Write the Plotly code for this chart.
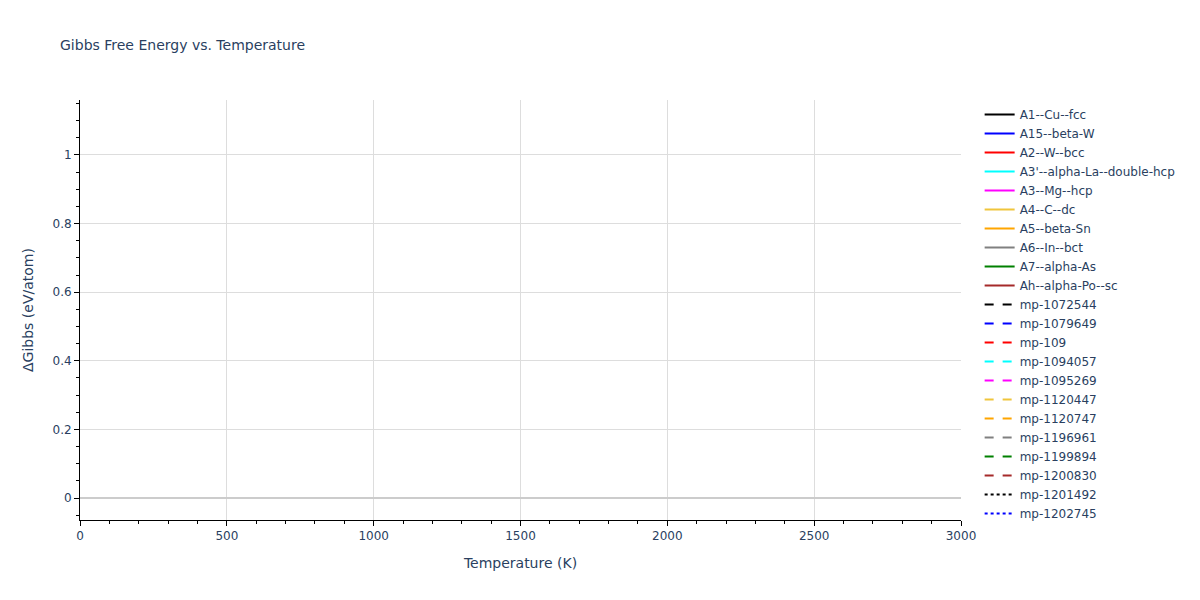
import plotly.graph_objects as go

# Series names and styles (no points of any series are visible in the reference view)
series_names = [
    "A1--Cu--fcc", "A15--beta-W", "A2--W--bcc", "A3'--alpha-La--double-hcp",
    "A3--Mg--hcp", "A4--C--dc", "A5--beta-Sn", "A6--In--bct", "A7--alpha-As",
    "Ah--alpha-Po--sc",
    "mp-1072544", "mp-1079649", "mp-109", "mp-1094057", "mp-1095269",
    "mp-1120447", "mp-1120747", "mp-1196961", "mp-1199894", "mp-1200830",
    "mp-1201492", "mp-1202745",
]
series_colors = [
    "black", "blue", "red", "cyan", "magenta", "#F0C53C", "orange", "gray", "green", "brown",
    "black", "blue", "red", "cyan", "magenta", "#F0C53C", "orange", "gray", "green", "brown",
    "black", "blue",
]
series_dash = ["solid"] * 10 + ["dash"] * 10 + ["dot"] * 2

# Temperature (K) and ΔGibbs (eV/atom): values are missing (nothing is drawn in the reference)
temperatures = [None]
gibbs_values = {name: [None] for name in series_names}

fig = go.Figure()
for name, color, dash in zip(series_names, series_colors, series_dash):
    fig.add_trace(go.Scatter(
        x=temperatures, y=gibbs_values[name], mode="lines", name=name,
        line=dict(color=color, dash=dash, width=2),
    ))

axis_common = dict(
    showline=True, linecolor="black", linewidth=1,
    ticks="outside", tickcolor="black", ticklen=5,
    gridcolor="#dddddd", showgrid=True,
)
fig.update_layout(
    template="plotly_white",
    width=1184, height=584,
    font=dict(family="Verdana, DejaVu Sans, sans-serif", size=12),
    title=dict(text="Gibbs Free Energy vs. Temperature", x=52 / 1184, xanchor="left",
               y=1 - 37 / 584, yanchor="middle", font=dict(size=14)),
    margin=dict(l=72, r=230, t=92, b=72),
    xaxis=dict(title="Temperature (K)", range=[0, 3000], dtick=500,
               minor=dict(dtick=100, ticks="outside", ticklen=3, tickcolor="black", showgrid=False),
               zeroline=False, **axis_common),
    yaxis=dict(title="ΔGibbs (eV/atom)", range=[-0.064, 1.16], dtick=0.2,
               minor=dict(dtick=0.05, ticks="outside", ticklen=3, tickcolor="black", showgrid=False),
               zeroline=True, zerolinecolor="#cccccc", zerolinewidth=2, **axis_common),
    showlegend=True,
    legend=dict(x=1.02, y=1, xanchor="left", yanchor="top", maxheight=520),
    plot_bgcolor="white",
)
fig.write_html("out.html")
